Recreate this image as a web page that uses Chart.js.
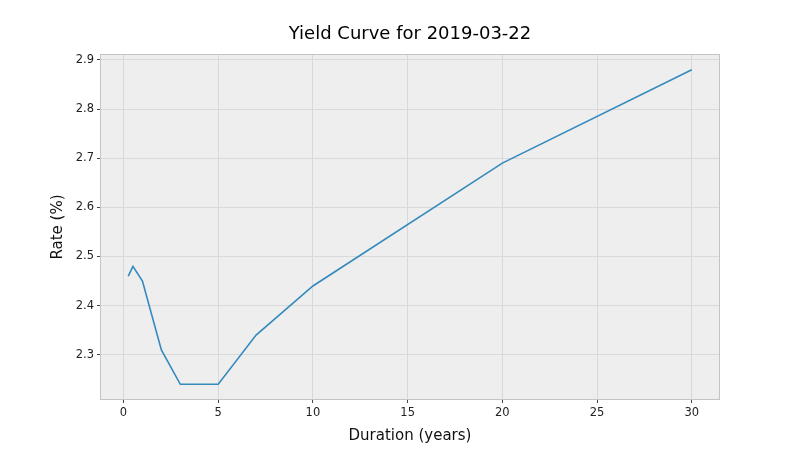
<!DOCTYPE html>
<html>
<head>
<meta charset="utf-8">
<script src="https://cdn.jsdelivr.net/npm/chart.js@4/dist/chart.umd.min.js"></script>
<style>
  html, body { margin: 0; padding: 0; background: #fff; }
  #wrap { width: 800px; height: 450px; }
</style>
</head>
<body>
<div id="wrap"><canvas id="yieldChart" width="800" height="450"></canvas></div>
<script>
const durations = [0.25, 0.5, 1, 2, 3, 5, 7, 10, 20, 30];
const rates = [2.46, 2.48, 2.45, 2.31, 2.24, 2.24, 2.34, 2.44, 2.69, 2.88];
const xTicks = [0, 5, 10, 15, 20, 25, 30];
const yTicks = [2.3, 2.4, 2.5, 2.6, 2.7, 2.8, 2.9];

const FONT = "'DejaVu Sans', sans-serif";
const tickFont = { family: FONT, size: 11.5 };

// bmh-like panel: grey fill plus a frame on all four sides
const panel = {
  id: "panel",
  beforeDraw(chart) {
    const { ctx, chartArea: a } = chart;
    ctx.save();
    ctx.fillStyle = "#eeeeee";
    ctx.fillRect(a.left, a.top, a.right - a.left, a.bottom - a.top);
    ctx.restore();
  },
  afterDraw(chart) {
    const { ctx, chartArea: a } = chart;
    ctx.save();
    ctx.strokeStyle = "#c4c4c4";
    ctx.lineWidth = 1;
    ctx.strokeRect(a.left + 0.5, a.top + 0.5, a.right - a.left - 1, a.bottom - a.top - 1);
    ctx.restore();
  },
};

new Chart(document.querySelector("#yieldChart"), {
  type: "line",
  data: {
    datasets: [{
      data: durations.map((d, i) => ({ x: d, y: rates[i] })),
      borderColor: "#348ABD",
      borderWidth: 1.6,
      pointRadius: 0,
      tension: 0,
      fill: false,
    }],
  },
  options: {
    responsive: false,
    animation: false,
    layout: { padding: { left: 20, right: 0, top: 0, bottom: 0 } },
    plugins: {
      legend: { display: false },
      tooltip: { enabled: false },
      title: {
        display: true,
        text: "Yield Curve for 2019-03-22",
        color: "#000",
        font: { family: FONT, size: 18, weight: "normal" },
        padding: { top: 24, bottom: 8.4 },
      },
    },
    scales: {
      x: {
        type: "linear",
        min: -1.24,
        max: 31.49,
        afterBuildTicks: (s) => { s.ticks = xTicks.map((v) => ({ value: v })); },
        afterFit: (s) => { s.height = 50; },
        ticks: { color: "#222", font: tickFont, padding: 3, maxRotation: 0 },
        grid: { color: "#d9d9d9", tickColor: "#444", tickLength: 3 },
        border: { display: false },
        title: {
          display: true,
          text: "Duration (years)",
          color: "#111",
          font: { family: FONT, size: 15 },
          padding: { top: 0, bottom: 5 },
        },
      },
      y: {
        min: 2.208,
        max: 2.912,
        afterBuildTicks: (s) => { s.ticks = yTicks.map((v) => ({ value: v })); },
        afterFit: (s) => { s.width = 80; },
        ticks: { color: "#222", font: tickFont, padding: 3, callback: (v) => v.toFixed(1) },
        grid: { color: "#d9d9d9", tickColor: "#444", tickLength: 3 },
        border: { display: false },
        title: {
          display: true,
          text: "Rate (%)",
          color: "#111",
          font: { family: FONT, size: 15 },
          padding: { top: 29, bottom: 0 },
        },
      },
      // empty right-hand spacer so the plot ends at 720px and the title centres over it
      yRight: {
        position: "right",
        min: 0,
        max: 1,
        afterFit: (s) => { s.width = 80; },
        ticks: { display: false },
        grid: { display: false },
        border: { display: false },
      },
    },
  },
  plugins: [panel],
});
</script>
</body>
</html>
